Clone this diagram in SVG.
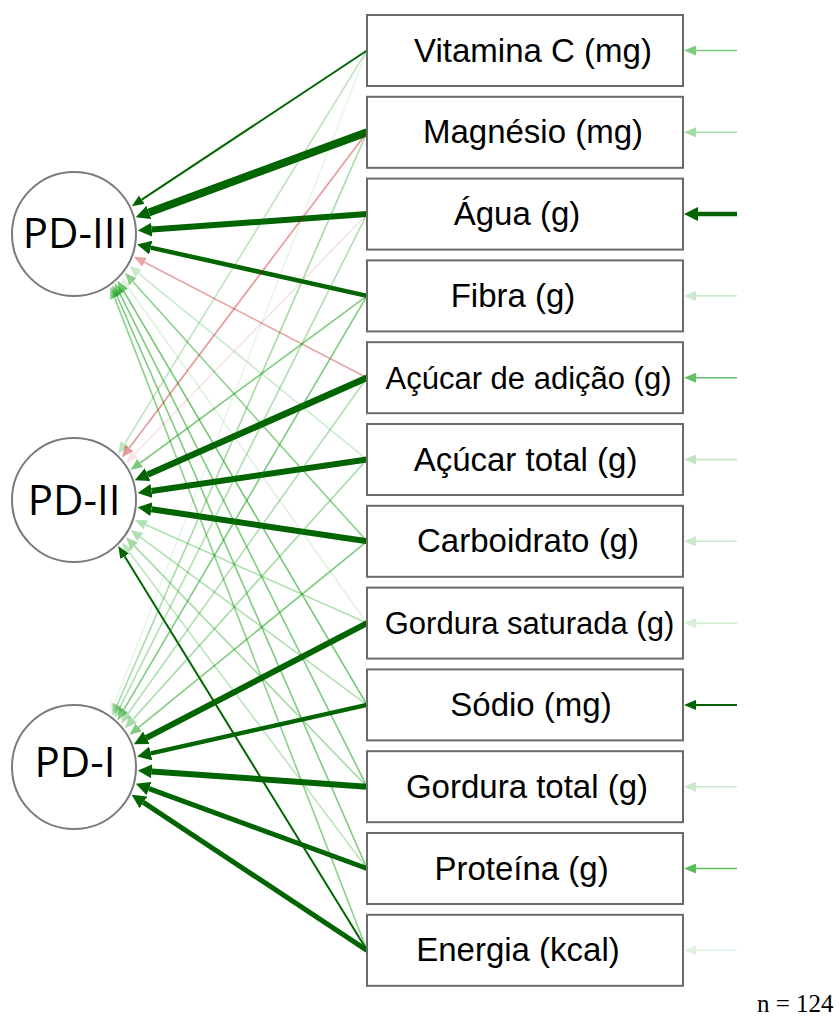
<svg xmlns="http://www.w3.org/2000/svg" width="840" height="1017" viewBox="0 0 840 1017">
<style>
.bg{fill:#ffffff}
.lat{fill:#ffffff;stroke:#7a7a7a;stroke-width:2}
.box{fill:#ffffff;stroke:#6a6a6a;stroke-width:2}
.lt{font-family:"Open Sans","DejaVu Sans",sans-serif;font-size:42px;fill:#000;text-anchor:middle}
.bt{font-family:"Liberation Sans",Arial,sans-serif;font-size:33px;fill:#000;text-anchor:middle}
.g{stroke:#009900;stroke-width:1.6;fill:none;marker-end:url(#mG)}
.p{stroke:#BF0000;stroke-width:1.6;fill:none;marker-end:url(#mP)}
.d{stroke:#006400;stroke-width:2;fill:none;marker-end:url(#mD)}
.D{stroke:#006400;fill:none;marker-end:url(#mDB)}
</style>
<defs>
<marker id="mG" markerUnits="userSpaceOnUse" markerWidth="12" markerHeight="10" refX="0" refY="5" orient="auto"><path d="M0,0 L12,5 L0,10 z" fill="#009900"/></marker>
<marker id="mP" markerUnits="userSpaceOnUse" markerWidth="12" markerHeight="10" refX="0" refY="5" orient="auto"><path d="M0,0 L12,5 L0,10 z" fill="#BF0000"/></marker>
<marker id="mD" markerUnits="userSpaceOnUse" markerWidth="12" markerHeight="10" refX="0" refY="5" orient="auto"><path d="M0,0 L12,5 L0,10 z" fill="#006400"/></marker>
<marker id="mDB" markerUnits="userSpaceOnUse" markerWidth="14" markerHeight="14" refX="0" refY="7" orient="auto"><path d="M0,0 L14,7 L0,14 z" fill="#006400"/></marker>
</defs>
<rect class="bg" x="0" y="0" width="840" height="1017"/>

<g id="connectors">
<!-- to PD-III -->
<line class="d" x1="367" y1="50.5" x2="141.8" y2="199.7" stroke-width="1.8"/>
<line class="D" x1="367" y1="132.3" x2="148.9" y2="212.4" stroke-width="8"/>
<line class="D" x1="367" y1="214.1" x2="151.8" y2="229.6" stroke-width="6"/>
<line class="D" x1="367" y1="295.9" x2="150.8" y2="247.6" stroke-width="4.5"/>
<line class="p" x1="367" y1="377.7" x2="144.5" y2="262.3" opacity="0.35"/>
<line class="g" x1="367" y1="459.5" x2="138.7" y2="273.6" opacity="0.2"/>
<line class="g" x1="367" y1="541.3" x2="133.0" y2="281.7" opacity="0.45"/>
<line class="g" x1="367" y1="623.1" x2="127.9" y2="287.3" opacity="0.12"/>
<line class="g" x1="367" y1="704.9" x2="123.7" y2="291.2" opacity="0.55"/>
<line class="g" x1="367" y1="786.7" x2="120.1" y2="294.1" opacity="0.5"/>
<line class="g" x1="367" y1="868.5" x2="117.2" y2="296.2" opacity="0.5"/>
<line class="g" x1="367" y1="950.3" x2="114.7" y2="297.9" opacity="0.45"/>
<!-- to PD-II -->
<line class="g" x1="367" y1="50.5" x2="124.7" y2="443.7" opacity="0.25"/>
<line class="p" x1="367" y1="132.3" x2="129.2" y2="448.0" opacity="0.4"/>
<line class="p" x1="367" y1="214.1" x2="134.4" y2="454.2" opacity="0.1"/>
<line class="g" x1="367" y1="295.9" x2="140.2" y2="463.0" opacity="0.5"/>
<line class="D" x1="367" y1="377.7" x2="147.6" y2="474.6" stroke-width="6.5"/>
<line class="D" x1="367" y1="459.5" x2="151.5" y2="491.0" stroke-width="6"/>
<line class="D" x1="367" y1="541.3" x2="151.4" y2="509.2" stroke-width="6"/>
<line class="g" x1="367" y1="623.1" x2="145.7" y2="524.8" opacity="0.3"/>
<line class="g" x1="367" y1="704.9" x2="140.2" y2="537.1" opacity="0.3"/>
<line class="g" x1="367" y1="786.7" x2="134.3" y2="545.9" opacity="0.35"/>
<line class="g" x1="367" y1="868.5" x2="129.1" y2="552.0" opacity="0.25"/>
<line class="d" x1="367" y1="950.3" x2="124.6" y2="556.3" stroke-width="2"/>
<!-- to PD-I -->
<line class="g" x1="367" y1="50.5" x2="114.7" y2="703.1" opacity="0.08"/>
<line class="g" x1="367" y1="132.3" x2="117.2" y2="704.8" opacity="0.35"/>
<line class="g" x1="367" y1="214.1" x2="120.1" y2="706.9" opacity="0.3"/>
<line class="g" x1="367" y1="295.9" x2="123.7" y2="709.8" opacity="0.5"/>
<line class="g" x1="367" y1="377.7" x2="127.9" y2="713.7" opacity="0.3"/>
<line class="g" x1="367" y1="459.5" x2="133.0" y2="719.3" opacity="0.35"/>
<line class="g" x1="367" y1="541.3" x2="138.7" y2="727.3" opacity="0.5"/>
<line class="D" x1="367" y1="623.1" x2="146.3" y2="737.8" stroke-width="6"/>
<line class="D" x1="367" y1="704.9" x2="150.8" y2="753.4" stroke-width="4.5"/>
<line class="D" x1="367" y1="786.7" x2="151.8" y2="771.4" stroke-width="6"/>
<line class="D" x1="367" y1="868.5" x2="149.0" y2="788.6" stroke-width="5"/>
<line class="D" x1="367" y1="950.3" x2="143.4" y2="802.4" stroke-width="5"/>
<!-- residuals -->
<line class="g" x1="737" y1="50.5" x2="696" y2="50.5" opacity="0.5"/>
<line class="g" x1="737" y1="132.3" x2="696" y2="132.3" opacity="0.35"/>
<line class="D" x1="737" y1="214.1" x2="698" y2="214.1" stroke-width="4.5"/>
<line class="g" x1="737" y1="295.9" x2="696" y2="295.9" opacity="0.2"/>
<line class="g" x1="737" y1="377.7" x2="696" y2="377.7" opacity="0.6" stroke-width="1.8"/>
<line class="g" x1="737" y1="459.5" x2="696" y2="459.5" opacity="0.25"/>
<line class="g" x1="737" y1="541.3" x2="696" y2="541.3" opacity="0.2"/>
<line class="g" x1="737" y1="623.1" x2="696" y2="623.1" opacity="0.15"/>
<line class="d" x1="737" y1="704.9" x2="696" y2="704.9" stroke-width="2"/>
<line class="g" x1="737" y1="786.7" x2="696" y2="786.7" opacity="0.2"/>
<line class="g" x1="737" y1="868.5" x2="696" y2="868.5" opacity="0.65" stroke-width="2"/>
<line class="g" x1="737" y1="950.3" x2="696" y2="950.3" opacity="0.12"/>
</g>

<g id="pd3"><circle class="lat" cx="74" cy="234" r="62"/><text class="lt" x="75" y="248">PD-III</text></g>
<g id="pd2"><circle class="lat" cx="74" cy="500" r="62"/><text class="lt" x="74" y="515">PD-II</text></g>
<g id="pd1"><circle class="lat" cx="74" cy="767" r="62"/><text class="lt" x="75" y="777">PD-I</text></g>

<g id="vitc"><rect class="box" x="367" y="15" width="316" height="71"/><text class="bt" x="533" y="62">Vitamina C (mg)</text></g>
<g id="mag"><rect class="box" x="367" y="96.8" width="316" height="71"/><text class="bt" x="533" y="143.3">Magnésio (mg)</text></g>
<g id="agua"><rect class="box" x="367" y="178.6" width="316" height="71"/><text class="bt" x="517" y="225.1">Água (g)</text></g>
<g id="fibra"><rect class="box" x="367" y="260.4" width="316" height="71"/><text class="bt" x="513" y="306.9">Fibra (g)</text></g>
<g id="acad"><rect class="box" x="367" y="342.2" width="316" height="71"/><text class="bt" x="528.5" y="388.7" style="font-size:31px">Açúcar de adição (g)</text></g>
<g id="actot"><rect class="box" x="367" y="424" width="316" height="71"/><text class="bt" x="525.5" y="470.5">Açúcar total (g)</text></g>
<g id="carb"><rect class="box" x="367" y="505.8" width="316" height="71"/><text class="bt" x="528" y="552.3">Carboidrato (g)</text></g>
<g id="gsat"><rect class="box" x="367" y="587.6" width="316" height="71"/><text class="bt" x="529.5" y="634.1" style="font-size:31px">Gordura saturada (g)</text></g>
<g id="sodio"><rect class="box" x="367" y="669.4" width="316" height="71"/><text class="bt" x="531" y="715.9">Sódio (mg)</text></g>
<g id="gtot"><rect class="box" x="367" y="751.2" width="316" height="71"/><text class="bt" x="527" y="797.7">Gordura total (g)</text></g>
<g id="prot"><rect class="box" x="367" y="833" width="316" height="71"/><text class="bt" x="521.5" y="879.5">Proteína (g)</text></g>
<g id="energ"><rect class="box" x="367" y="914.8" width="316" height="71"/><text class="bt" x="518" y="961.3">Energia (kcal)</text></g>

<text x="757" y="1012" style="font-family:'Liberation Serif','Times New Roman',serif;font-size:25px;fill:#000">n = 124</text>
</svg>
